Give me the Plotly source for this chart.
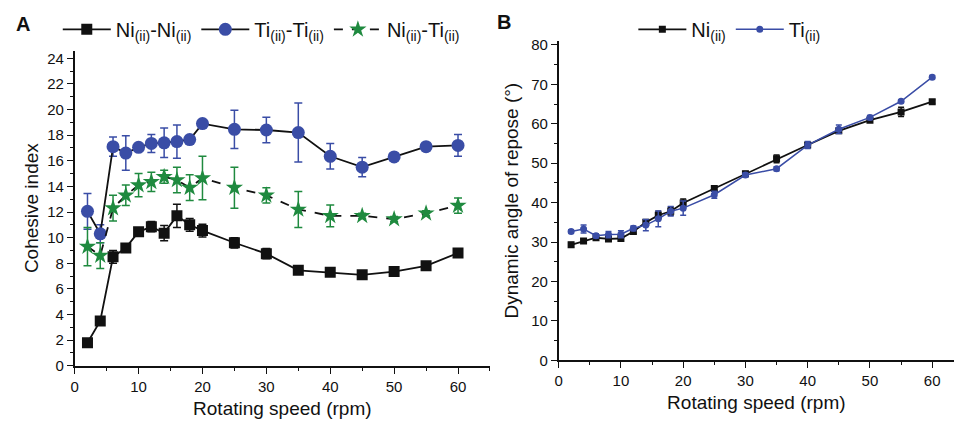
import plotly.graph_objects as go

# ---- Panel A data: cohesive index ----
speed_a = [2, 4, 6, 8, 10, 12, 14, 16, 18, 20, 25, 30, 35, 40, 45, 50, 55, 60]
nini = [1.8, 3.5, 8.5, 9.2, 10.45, 10.85, 10.35, 11.7, 11.0, 10.55, 9.6, 8.75, 7.45, 7.3, 7.1, 7.35, 7.8, 8.8]
nini_err = [0.2, 0.2, 0.5, 0.3, 0.3, 0.4, 0.6, 0.9, 0.5, 0.5, 0.4, 0.4, 0.2, 0.2, 0.2, 0.2, 0.2, 0.2]
titi = [12.05, 10.3, 17.1, 16.6, 17.05, 17.35, 17.4, 17.5, 17.65, 18.9, 18.45, 18.4, 18.2, 16.35, 15.5, 16.3, 17.1, 17.2]
titi_err = [1.4, 0.7, 0.75, 1.35, 0.2, 0.7, 1.15, 1.3, 0.2, 0.2, 1.5, 1.0, 2.3, 1.0, 0.75, 0.3, 0.2, 0.85]
niti = [9.3, 8.6, 12.3, 13.3, 14.1, 14.35, 14.75, 14.5, 13.9, 14.65, 13.9, 13.3, 12.2, 11.7, 11.7, 11.45, 11.9, 12.5]
niti_err = [1.5, 1.0, 1.0, 0.8, 0.9, 0.75, 0.5, 1.0, 1.0, 1.7, 1.6, 0.6, 1.4, 0.85, 0.2, 0.2, 0.2, 0.6]

# ---- Panel B data: dynamic angle of repose ----
speed_b = [2, 4, 6, 8, 10, 12, 14, 16, 18, 20, 25, 30, 35, 40, 45, 50, 55, 60]
ni = [29.3, 30.3, 31.1, 30.8, 30.9, 32.7, 35.0, 36.8, 37.8, 39.9, 43.6, 47.3, 51.1, 54.6, 58.2, 60.9, 63.0, 65.6]
ni_err = [0.6, 0.5, 0.5, 0.6, 0.6, 0.5, 0.6, 1.0, 1.0, 1.0, 0.5, 0.6, 1.0, 0.6, 0.6, 0.5, 1.2, 0.5]
ti = [32.7, 33.3, 31.6, 31.9, 32.0, 33.5, 34.3, 35.9, 37.8, 38.6, 42.0, 47.0, 48.6, 54.6, 58.6, 61.6, 65.7, 71.8]
ti_err = [0.4, 1.0, 0.5, 0.8, 0.9, 0.6, 1.4, 2.0, 1.2, 1.8, 0.9, 0.5, 0.5, 0.9, 1.1, 0.5, 0.4, 0.4]

BLACK = "#111111"
BLUE = "#3a4da6"
GREEN = "#1f8a3f"
FONT = "Liberation Sans, Arial"

fig = go.Figure()

fig.add_trace(go.Scatter(
    x=speed_a, y=nini, name="Ni<sub>(ii)</sub>-Ni<sub>(ii)</sub>",
    mode="lines+markers", line=dict(color=BLACK, width=1.8),
    marker=dict(symbol="square", size=11, color=BLACK),
    error_y=dict(type="data", array=nini_err, color=BLACK, thickness=1.5, width=4),
    xaxis="x", yaxis="y", legend="legend"))
fig.add_trace(go.Scatter(
    x=speed_a, y=titi, name="Ti<sub>(ii)</sub>-Ti<sub>(ii)</sub>",
    mode="lines+markers", line=dict(color=BLACK, width=1.8),
    marker=dict(symbol="circle", size=13, color=BLUE),
    error_y=dict(type="data", array=titi_err, color=BLUE, thickness=1.5, width=4),
    xaxis="x", yaxis="y", legend="legend"))
fig.add_trace(go.Scatter(
    x=speed_a, y=niti, name="Ni<sub>(ii)</sub>-Ti<sub>(ii)</sub>",
    mode="lines+markers", line=dict(color=BLACK, width=1.8, dash="dash"),
    marker=dict(symbol="star", size=13, color=GREEN),
    error_y=dict(type="data", array=niti_err, color=GREEN, thickness=1.5, width=4),
    xaxis="x", yaxis="y", legend="legend"))

fig.add_trace(go.Scatter(
    x=speed_b, y=ni, name="Ni<sub>(ii)</sub>",
    mode="lines+markers", line=dict(color=BLACK, width=1.8),
    marker=dict(symbol="square", size=7, color=BLACK),
    error_y=dict(type="data", array=ni_err, color=BLACK, thickness=1.5, width=3),
    xaxis="x2", yaxis="y2", legend="legend2"))
fig.add_trace(go.Scatter(
    x=speed_b, y=ti, name="Ti<sub>(ii)</sub>",
    mode="lines+markers", line=dict(color=BLUE, width=1.5),
    marker=dict(symbol="circle", size=7, color=BLUE),
    error_y=dict(type="data", array=ti_err, color=BLUE, thickness=1.5, width=3),
    xaxis="x2", yaxis="y2", legend="legend2"))

W, H = 954, 430
def px_x(p): return p / W
def px_y(p): return (H - p) / H

axis_common = dict(
    showline=True, linecolor=BLACK, linewidth=1.5, ticks="outside", ticklen=6,
    tickwidth=1.3, tickcolor=BLACK, showgrid=False, zeroline=False,
    tickfont=dict(family=FONT, size=15, color=BLACK),
    title_font=dict(family=FONT, size=19, color=BLACK),
)

fig.update_layout(
    width=W, height=H, margin=dict(l=0, r=0, t=0, b=0),
    paper_bgcolor="white", plot_bgcolor="white",
    font=dict(family=FONT, color=BLACK),
    xaxis=dict(domain=[px_x(71), px_x(488)], range=[0, 65], anchor="y",
               tickvals=[0, 10, 20, 30, 40, 50, 60],
               minor=dict(ticks="outside", ticklen=3, dtick=5, tickcolor=BLACK, tickwidth=1.2),
               title=dict(text="Rotating speed (rpm)", standoff=8), **axis_common),
    yaxis=dict(domain=[px_y(372), px_y(47)], range=[0, 24.6], anchor="x",
               tickvals=list(range(0, 25, 2)),
               minor=dict(ticks="outside", ticklen=3, dtick=1, tickcolor=BLACK, tickwidth=1.2),
               title=dict(text="Cohesive index", standoff=4), **axis_common),
    xaxis2=dict(domain=[px_x(557), 1.0], range=[0, 63.5], anchor="y2",
                tickvals=[0, 10, 20, 30, 40, 50, 60],
                minor=dict(ticks="outside", ticklen=3, dtick=5, tickcolor=BLACK, tickwidth=1.2),
                title=dict(text="Rotating speed (rpm)", standoff=8), **axis_common),
    yaxis2=dict(domain=[px_y(366.5), px_y(37)], range=[0, 81], anchor="x2",
                tickvals=list(range(0, 81, 10)),
                minor=dict(ticks="outside", ticklen=3, dtick=5, tickcolor=BLACK, tickwidth=1.2),
                title=dict(text="Dynamic angle of repose (°)", standoff=8), **axis_common),
    legend=dict(orientation="h", x=px_x(54), y=px_y(5), xanchor="left", yanchor="top",
                font=dict(family=FONT, size=20, color=BLACK), bgcolor="rgba(0,0,0,0)",
                itemwidth=48, tracegroupgap=0),
    legend2=dict(orientation="h", x=px_x(632), y=px_y(5), xanchor="left", yanchor="top",
                 font=dict(family=FONT, size=20, color=BLACK), bgcolor="rgba(0,0,0,0)",
                 itemwidth=48),
    annotations=[
        dict(text="<b>A</b>", x=px_x(10), y=px_y(20), xref="paper", yref="paper",
             xanchor="left", yanchor="middle", showarrow=False,
             font=dict(family="Liberation Sans, Arial", size=20, color=BLACK)),
        dict(text="<b>B</b>", x=px_x(493), y=px_y(18), xref="paper", yref="paper",
             xanchor="left", yanchor="middle", showarrow=False,
             font=dict(family="Liberation Sans, Arial", size=20, color=BLACK)),
    ],
)

fig.write_html("out.html")
